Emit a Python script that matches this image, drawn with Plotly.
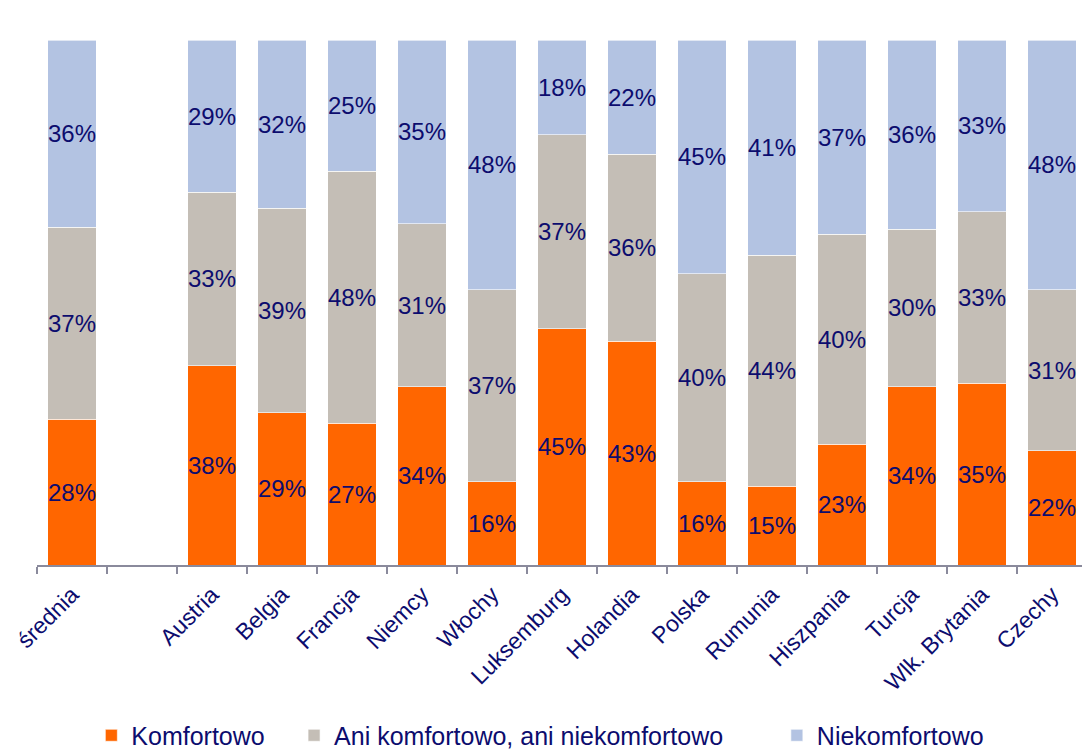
import plotly.graph_objects as go

categories = ["średnia", " ", "Austria", "Belgia", "Francja", "Niemcy", "Włochy",
              "Luksemburg", "Holandia", "Polska", "Rumunia", "Hiszpania", "Turcja",
              "Wlk. Brytania", "Czechy"]
komfortowo = [28, None, 38, 29, 27, 34, 16, 45, 43, 16, 15, 23, 34, 35, 22]
ani = [37, None, 33, 39, 48, 31, 37, 37, 36, 40, 44, 40, 30, 33, 31]
niekomfortowo = [36, None, 29, 32, 25, 35, 48, 18, 22, 45, 41, 37, 36, 33, 48]

series = [
    ("Komfortowo", komfortowo, "#FF6600", "legend", 0.052),
    ("Ani komfortowo, ani niekomfortowo", ani, "#C4BEB6", "legend2", 0.246),
    ("Niekomfortowo", niekomfortowo, "#B3C3E2", "legend3", 0.708),
]

NAVY = "#0c0c6e"
FONT = "Liberation Sans, Arial, sans-serif"

fig = go.Figure()
legends = {}
for name, vals, color, leg, lx in series:
    fig.add_trace(go.Bar(
        name=name, x=categories, y=vals, legend=leg,
        marker=dict(color=color, line=dict(color="rgba(255,255,255,0.6)", width=1)),
        text=[f"{v}%" if v is not None else "" for v in vals],
        textposition="inside", insidetextanchor="middle", textangle=0,
        textfont=dict(family=FONT, size=24, color=NAVY),
        hoverinfo="skip",
    ))
    legends[leg] = dict(orientation="h", x=lx, xanchor="left", y=-0.281, yanchor="top",
                        font=dict(family=FONT, size=25, color=NAVY),
                        bgcolor="rgba(0,0,0,0)", itemwidth=30)

fig.update_layout(
    barmode="stack", barnorm="percent", bargap=0.314,
    width=1082, height=749,
    margin=dict(l=37, r=0, t=40, b=184, autoexpand=False),
    plot_bgcolor="white", paper_bgcolor="white",
    font=dict(family=FONT, color=NAVY, size=22),
    uniformtext=dict(minsize=24, mode="show"),
    showlegend=True,
    **legends,
)
fig.update_xaxes(
    type="category", range=[-0.5, -0.5 + 1045 / 70], automargin=False,
    showline=True, linecolor="#8a8a9c", linewidth=2,
    ticks="outside", tickson="boundaries", ticklen=7, tickwidth=2, tickcolor="#8a8a9c",
    tickangle=-45, tickfont=dict(family=FONT, size=23, color=NAVY),
    ticklabelstandoff=5,
    showgrid=False,
)
fig.update_yaxes(range=[0, 100], visible=False, showgrid=False, automargin=False)

fig.write_html("out.html", config={"displayModeBar": False},
               post_script="document.body.style.margin='0px';")
